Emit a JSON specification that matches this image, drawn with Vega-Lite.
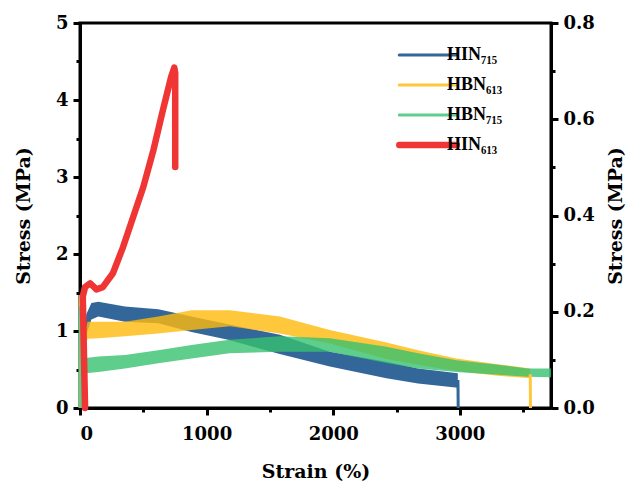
{
  "$schema": "https://vega.github.io/schema/vega-lite/v6.json",
  "width": 471,
  "height": 385,
  "autosize": {"type": "none"},
  "padding": {"left": 80, "top": 23, "right": 76, "bottom": 74},
  "background": "white",
  "config": {
    "view": {"stroke": "black", "strokeWidth": 3},
    "axis": {
      "domainColor": "black", "domainWidth": 3, "tickColor": "black", "tickWidth": 3,
      "labelFont": "DejaVu Serif", "labelFontWeight": "bold", "labelFontSize": 18, "labelColor": "black",
      "titleFont": "DejaVu Serif", "titleFontWeight": "bold", "titleFontSize": 19, "titleColor": "black",
      "grid": false
    }
  },
  "datasets": {
    "bands": [
      {"s": "HIN₇₁₅", "x": 30, "lo": 0.096, "hi": 0.144},
      {"s": "HIN₇₁₅", "x": 50, "lo": 0.152, "hi": 0.195},
      {"s": "HIN₇₁₅", "x": 90, "lo": 0.184, "hi": 0.218},
      {"s": "HIN₇₁₅", "x": 145, "lo": 0.190, "hi": 0.221},
      {"s": "HIN₇₁₅", "x": 355, "lo": 0.179, "hi": 0.211},
      {"s": "HIN₇₁₅", "x": 618, "lo": 0.176, "hi": 0.205},
      {"s": "HIN₇₁₅", "x": 881, "lo": 0.158, "hi": 0.190},
      {"s": "HIN₇₁₅", "x": 1170, "lo": 0.142, "hi": 0.174},
      {"s": "HIN₇₁₅", "x": 1578, "lo": 0.112, "hi": 0.152},
      {"s": "HIN₇₁₅", "x": 1973, "lo": 0.086, "hi": 0.117},
      {"s": "HIN₇₁₅", "x": 2420, "lo": 0.062, "hi": 0.096},
      {"s": "HIN₇₁₅", "x": 2670, "lo": 0.051, "hi": 0.082},
      {"s": "HIN₇₁₅", "x": 2984, "lo": 0.042, "hi": 0.072},
      {"s": "HBN₆₁₃", "x": 25, "lo": 0.112, "hi": 0.152},
      {"s": "HBN₆₁₃", "x": 60, "lo": 0.144, "hi": 0.179},
      {"s": "HBN₆₁₃", "x": 145, "lo": 0.145, "hi": 0.179},
      {"s": "HBN₆₁₃", "x": 355, "lo": 0.149, "hi": 0.179},
      {"s": "HBN₆₁₃", "x": 618, "lo": 0.155, "hi": 0.190},
      {"s": "HBN₆₁₃", "x": 881, "lo": 0.162, "hi": 0.203},
      {"s": "HBN₆₁₃", "x": 1184, "lo": 0.170, "hi": 0.203},
      {"s": "HBN₆₁₃", "x": 1578, "lo": 0.155, "hi": 0.190},
      {"s": "HBN₆₁₃", "x": 1973, "lo": 0.134, "hi": 0.162},
      {"s": "HBN₆₁₃", "x": 2420, "lo": 0.102, "hi": 0.136},
      {"s": "HBN₆₁₃", "x": 2670, "lo": 0.090, "hi": 0.120},
      {"s": "HBN₆₁₃", "x": 2973, "lo": 0.077, "hi": 0.103},
      {"s": "HBN₆₁₃", "x": 3300, "lo": 0.067, "hi": 0.091},
      {"s": "HBN₆₁₃", "x": 3555, "lo": 0.062, "hi": 0.082},
      {"s": "HBN₇₁₅", "x": 25, "lo": 0.048, "hi": 0.080},
      {"s": "HBN₇₁₅", "x": 45, "lo": 0.072, "hi": 0.104},
      {"s": "HBN₇₁₅", "x": 145, "lo": 0.075, "hi": 0.107},
      {"s": "HBN₇₁₅", "x": 355, "lo": 0.082, "hi": 0.110},
      {"s": "HBN₇₁₅", "x": 618, "lo": 0.093, "hi": 0.120},
      {"s": "HBN₇₁₅", "x": 881, "lo": 0.103, "hi": 0.131},
      {"s": "HBN₇₁₅", "x": 1180, "lo": 0.114, "hi": 0.142},
      {"s": "HBN₇₁₅", "x": 1578, "lo": 0.117, "hi": 0.149},
      {"s": "HBN₇₁₅", "x": 1973, "lo": 0.117, "hi": 0.145},
      {"s": "HBN₇₁₅", "x": 2410, "lo": 0.094, "hi": 0.128},
      {"s": "HBN₇₁₅", "x": 2670, "lo": 0.082, "hi": 0.114},
      {"s": "HBN₇₁₅", "x": 2973, "lo": 0.075, "hi": 0.099},
      {"s": "HBN₇₁₅", "x": 3300, "lo": 0.069, "hi": 0.090},
      {"s": "HBN₇₁₅", "x": 3537, "lo": 0.065, "hi": 0.082},
      {"s": "HBN₇₁₅", "x": 3720, "lo": 0.064, "hi": 0.082}
    ],
    "spikes": [
      {"s": "HIN₇₁₅", "seg": "a", "i": 0, "x": 12, "y": 0},
      {"s": "HIN₇₁₅", "seg": "a", "i": 1, "x": 22, "y": 0.128},
      {"s": "HIN₇₁₅", "seg": "a", "i": 2, "x": 40, "y": 0.176},
      {"s": "HIN₇₁₅", "seg": "b", "i": 0, "x": 2985, "y": 0.058},
      {"s": "HIN₇₁₅", "seg": "b", "i": 1, "x": 2987, "y": 0},
      {"s": "HBN₆₁₃", "seg": "a", "i": 0, "x": 1, "y": 0},
      {"s": "HBN₆₁₃", "seg": "a", "i": 1, "x": 3, "y": 0.232},
      {"s": "HBN₆₁₃", "seg": "a", "i": 2, "x": 10, "y": 0.05},
      {"s": "HBN₆₁₃", "seg": "a", "i": 3, "x": 22, "y": 0.136},
      {"s": "HBN₆₁₃", "seg": "a", "i": 4, "x": 35, "y": 0.16},
      {"s": "HBN₆₁₃", "seg": "b", "i": 0, "x": 3556, "y": 0.07},
      {"s": "HBN₆₁₃", "seg": "b", "i": 1, "x": 3558, "y": 0},
      {"s": "HBN₇₁₅", "seg": "a", "i": 0, "x": 1, "y": 0},
      {"s": "HBN₇₁₅", "seg": "a", "i": 1, "x": 3, "y": 0.208},
      {"s": "HBN₇₁₅", "seg": "a", "i": 2, "x": 10, "y": 0.03},
      {"s": "HBN₇₁₅", "seg": "a", "i": 3, "x": 25, "y": 0.075},
      {"s": "HBN₇₁₅", "seg": "a", "i": 4, "x": 40, "y": 0.088}
    ],
    "red": [
      {"s": "HIN₆₁₃", "i": 0, "x": 40, "y": 0},
      {"s": "HIN₆₁₃", "i": 1, "x": 30, "y": 0.8},
      {"s": "HIN₆₁₃", "i": 2, "x": 22, "y": 1.45},
      {"s": "HIN₆₁₃", "i": 3, "x": 40, "y": 1.57},
      {"s": "HIN₆₁₃", "i": 4, "x": 80, "y": 1.62},
      {"s": "HIN₆₁₃", "i": 5, "x": 130, "y": 1.54},
      {"s": "HIN₆₁₃", "i": 6, "x": 180, "y": 1.57},
      {"s": "HIN₆₁₃", "i": 7, "x": 260, "y": 1.75},
      {"s": "HIN₆₁₃", "i": 8, "x": 340, "y": 2.09},
      {"s": "HIN₆₁₃", "i": 9, "x": 420, "y": 2.48},
      {"s": "HIN₆₁₃", "i": 10, "x": 500, "y": 2.87},
      {"s": "HIN₆₁₃", "i": 11, "x": 580, "y": 3.35},
      {"s": "HIN₆₁₃", "i": 12, "x": 655, "y": 3.87},
      {"s": "HIN₆₁₃", "i": 13, "x": 720, "y": 4.3},
      {"s": "HIN₆₁₃", "i": 14, "x": 745, "y": 4.42},
      {"s": "HIN₆₁₃", "i": 15, "x": 752, "y": 4.35},
      {"s": "HIN₆₁₃", "i": 16, "x": 752, "y": 3.13}
    ]
  },
  "layer": [
    {
      "data": {"name": "bands"},
      "mark": {"type": "area", "opacity": 0.8},
      "encoding": {
        "x": {"field": "x", "type": "quantitative", "scale": {"domain": [0, 3720], "nice": false},
          "axis": {"title": "Strain (%)", "values": [0, 500, 1000, 1500, 2000, 2500, 3000, 3500],
            "labelExpr": "datum.value % 1000 === 0 ? format(datum.value, 'd') : ''",
            "tickSize": {"condition": {"test": "datum.value % 1000 !== 0", "value": 4}, "value": 7},
            "labelPadding": 10, "titlePadding": 19}},
        "y": {"field": "hi", "type": "quantitative", "scale": {"domain": [0, 0.8], "nice": false},
          "axis": {"orient": "right", "title": "Stress (MPa)", "titleAngle": 270, "titleBaseline": "top",
            "values": [0, 0.1, 0.2, 0.3, 0.4, 0.5, 0.6, 0.7, 0.8],
            "labelExpr": "round(datum.value * 10) % 2 === 0 ? format(datum.value, '.1f') : ''",
            "tickSize": {"condition": {"test": "round(datum.value * 10) % 2 !== 0", "value": 4}, "value": 7},
            "labelPadding": 5, "titlePadding": 12}},
        "y2": {"field": "lo"},
        "fill": {"field": "s", "type": "nominal", "legend": null,
          "scale": {"domain": ["HIN₇₁₅", "HBN₆₁₃", "HBN₇₁₅"], "range": ["#00407F", "#FFBA0B", "#37C06F"]}}
      }
    },
    {
      "data": {"name": "spikes"},
      "mark": {"type": "line", "strokeWidth": 3, "strokeCap": "butt", "strokeJoin": "round"},
      "encoding": {
        "x": {"field": "x", "type": "quantitative", "scale": {"domain": [0, 3720], "nice": false},
          "axis": {"title": "Strain (%)", "values": [0, 500, 1000, 1500, 2000, 2500, 3000, 3500],
            "labelExpr": "datum.value % 1000 === 0 ? format(datum.value, 'd') : ''",
            "tickSize": {"condition": {"test": "datum.value % 1000 !== 0", "value": 4}, "value": 7},
            "labelPadding": 10, "titlePadding": 19}},
        "y": {"field": "y", "type": "quantitative", "scale": {"domain": [0, 0.8], "nice": false}, "axis": null},
        "detail": {"field": "seg"},
        "order": {"field": "i"},
        "color": {"field": "s", "type": "nominal",
          "scale": {"domain": ["HIN₇₁₅", "HBN₆₁₃", "HBN₇₁₅", "HIN₆₁₃"], "range": ["#336699", "#FFC83C", "#5FCD8C", "#F03535"]},
          "legend": {"title": null, "orient": "none", "legendX": 316, "legendY": 17, "symbolType": "stroke", "symbolSize": 3300, "clipHeight": 30, "symbolOffset": 23,
            "labelFont": "Liberation Serif", "labelFontSize": 18, "labelFontWeight": "bold", "labelColor": "black", "labelOffset": 10, "rowPadding": 0, "padding": 0,
            "encode": {"symbols": {"update": {"strokeWidth": {"signal": "datum.value === 'HIN₆₁₃' ? 6.5 : 3"}, "strokeCap": {"value": "round"}}}}}}
      }
    },
    {
      "data": {"name": "red"},
      "mark": {"type": "line", "strokeWidth": 6.5, "strokeCap": "round", "strokeJoin": "round"},
      "encoding": {
        "x": {"field": "x", "type": "quantitative", "scale": {"domain": [0, 3720], "nice": false},
          "axis": {"title": "Strain (%)", "values": [0, 500, 1000, 1500, 2000, 2500, 3000, 3500],
            "labelExpr": "datum.value % 1000 === 0 ? format(datum.value, 'd') : ''",
            "tickSize": {"condition": {"test": "datum.value % 1000 !== 0", "value": 4}, "value": 7},
            "labelPadding": 10, "titlePadding": 19}},
        "y": {"field": "y", "type": "quantitative", "scale": {"domain": [0, 5], "nice": false},
          "axis": {"orient": "left", "title": "Stress (MPa)",
            "values": [0, 0.5, 1, 1.5, 2, 2.5, 3, 3.5, 4, 4.5, 5],
            "labelExpr": "datum.value % 1 === 0 ? format(datum.value, 'd') : ''",
            "tickSize": {"condition": {"test": "datum.value % 1 !== 0", "value": 4}, "value": 7},
            "labelPadding": 5, "titlePadding": 22}},
        "order": {"field": "i"},
        "color": {"field": "s", "type": "nominal",
          "scale": {"domain": ["HIN₇₁₅", "HBN₆₁₃", "HBN₇₁₅", "HIN₆₁₃"], "range": ["#336699", "#FFC83C", "#5FCD8C", "#F03535"]},
          "legend": {"title": null, "orient": "none", "legendX": 316, "legendY": 17, "symbolType": "stroke", "symbolSize": 3300, "clipHeight": 30, "symbolOffset": 23,
            "labelFont": "Liberation Serif", "labelFontSize": 18, "labelFontWeight": "bold", "labelColor": "black", "labelOffset": 10, "rowPadding": 0, "padding": 0,
            "encode": {"symbols": {"update": {"strokeWidth": {"signal": "datum.value === 'HIN₆₁₃' ? 6.5 : 3"}, "strokeCap": {"value": "round"}}}}}}
      }
    }
  ],
  "resolve": {"scale": {"y": "independent"}, "axis": {"y": "independent"}}
}
